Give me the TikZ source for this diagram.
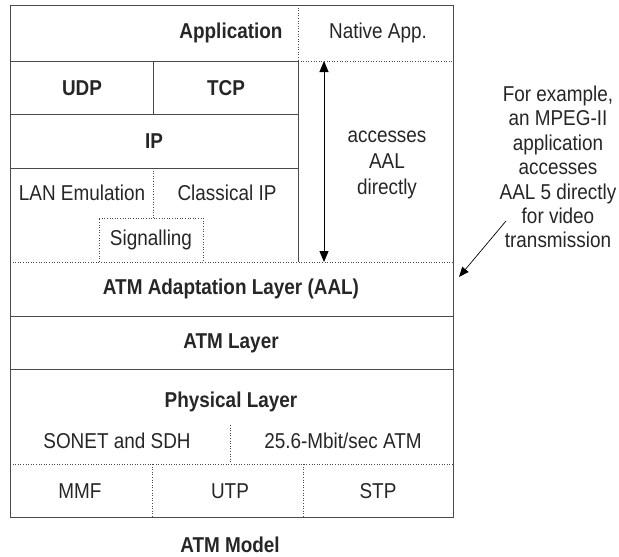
\documentclass[tikz,border=0pt]{standalone}
\usepackage{fontspec}
\setmainfont{Liberation Sans}[FakeStretch=0.88]
\usetikzlibrary{arrows.meta}
\definecolor{linegray}{HTML}{4A4A4A}
\definecolor{textgray}{HTML}{262626}
\tikzset{
  layertext/.style={font=\fontsize{21.5}{23}\selectfont\bfseries, text=textgray},
  subtext/.style={font=\fontsize{21.5}{23}\selectfont, text=textgray, align=center},
  solidline/.style={linegray, line width=0.9pt},
  dotline/.style={linegray, line width=0.9pt, dash pattern=on 1pt off 1.6pt},
}
\begin{document}
\begin{tikzpicture}[x=1pt,y=-1pt]
\useasboundingbox (0,0) rectangle (619,557);
% frame and layer borders
\draw[solidline] (10,5) rectangle (453,517);
\draw[dotline] (298,5) -- (298,61);
\draw[solidline] (10,61) -- (298,61);
\draw[dotline] (298,61) -- (453,61);
\draw[solidline] (298,61) -- (298,262);
\draw[solidline] (153,61) -- (153,114);
\draw[solidline] (10,114) -- (298,114);
\draw[solidline] (10,168) -- (298,168);
\draw[dotline] (153,168) -- (153,218);
\draw[dotline] (99,262) -- (99,218) -- (203,218) -- (203,262);
\draw[dotline] (10,262) -- (453,262);
\draw[solidline] (10,316) -- (453,316);
\draw[solidline] (10,369) -- (453,369);
\draw[dotline] (230,425) -- (230,464);
\draw[dotline] (10,464) -- (453,464);
\draw[dotline] (152,464) -- (152,517);
\draw[dotline] (303,464) -- (303,517);

% labels
\node[layertext, anchor=east] (app) at (286,33) {Application};
\node[subtext] (native) at (378,33) {Native App.};
\node[layertext] (udp) at (82,88) {UDP};
\node[layertext] (tcp) at (226,88) {TCP};
\node[layertext] (ip) at (154,141) {IP};
\node[subtext] (lane) at (82,193) {LAN Emulation};
\node[subtext] (classip) at (227,193) {Classical IP};
\node[subtext] (signal) at (151,240) {Signalling};
\node[layertext] (aal) at (231,289) {ATM Adaptation Layer (AAL)};
\node[layertext] (atm) at (231,343) {ATM Layer};
\node[layertext] (phy) at (231,402) {Physical Layer};
\node[subtext] (sonet) at (117,441) {SONET and SDH};
\node[subtext] (mbit) at (343,441) {25.6-Mbit/sec ATM};
\node[subtext] (mmf) at (80,491) {MMF};
\node[subtext] (utp) at (230,491) {UTP};
\node[subtext] (stp) at (378,491) {STP};
\node[layertext] (title) at (230,545) {ATM Model};

\node[subtext, font=\fontsize{21.5}{26}\selectfont] (direct) at (387,165) {accesses\\AAL\\directly};
\node[subtext, font=\fontsize{21.5}{24.4}\selectfont] (note) at (558,167) {For example,\\an MPEG-II\\application\\accesses\\AAL 5 directly\\for video\\transmission};

% arrows
\coordinate (acctop) at (324,61);
\coordinate (accbot) at (324,262);
\draw[line width=0.9pt, {Triangle[width=9pt,length=11pt]}-{Triangle[width=9pt,length=11pt]}] (acctop) -- (accbot);
\coordinate (notefrom) at (506,221);
\coordinate (noteto) at (459,277);
\draw[line width=0.7pt, -{Triangle[width=8pt,length=10pt]}] (notefrom) -- (noteto);
\end{tikzpicture}
\end{document}
